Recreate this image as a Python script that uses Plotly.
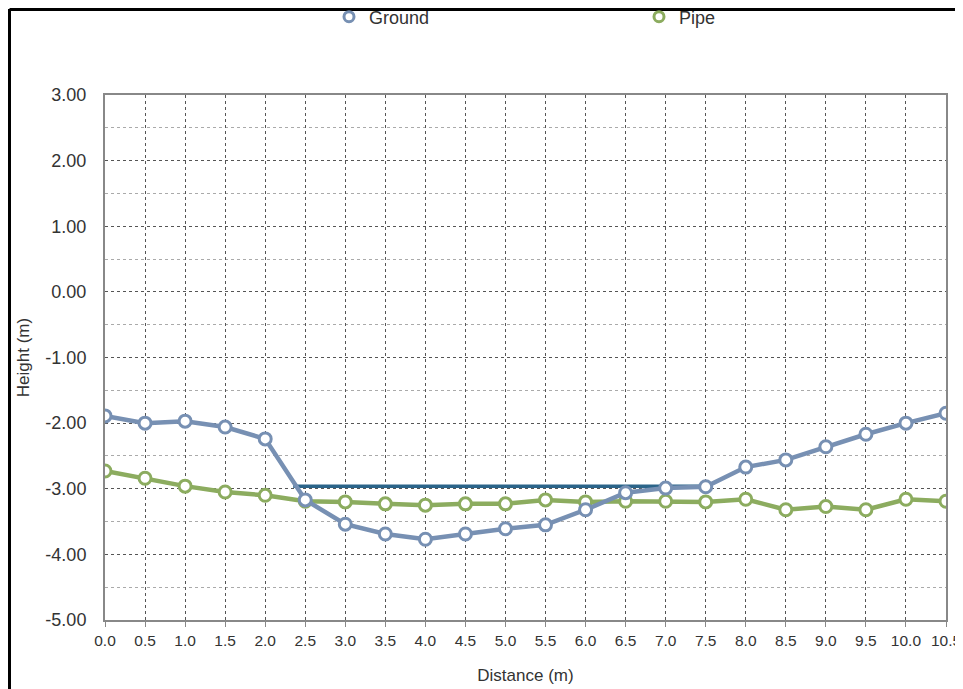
import plotly.graph_objects as go

distance = [0.0, 0.5, 1.0, 1.5, 2.0, 2.5, 3.0, 3.5, 4.0, 4.5, 5.0, 5.5, 6.0, 6.5, 7.0, 7.5, 8.0, 8.5, 9.0, 9.5, 10.0, 10.5]
ground = [-1.89, -2.00, -1.97, -2.06, -2.24, -3.17, -3.54, -3.69, -3.77, -3.69, -3.61, -3.55, -3.32, -3.06, -2.99, -2.97, -2.67, -2.56, -2.36, -2.17, -2.00, -1.85]
pipe = [-2.73, -2.84, -2.96, -3.05, -3.10, -3.19, -3.20, -3.23, -3.25, -3.23, -3.23, -3.17, -3.20, -3.19, -3.19, -3.20, -3.16, -3.32, -3.27, -3.32, -3.16, -3.19]
level_x = [2.35, 7.5]
level_y = [-2.96, -2.96]
x_ticks = [0.0, 0.5, 1.0, 1.5, 2.0, 2.5, 3.0, 3.5, 4.0, 4.5, 5.0, 5.5, 6.0, 6.5, 7.0, 7.5, 8.0, 8.5, 9.0, 9.5, 10.0, 10.5]
x_tick_labels = ["0.0", "0.5", "1.0", "1.5", "2.0", "2.5", "3.0", "3.5", "4.0", "4.5", "5.0", "5.5", "6.0", "6.5", "7.0", "7.5", "8.0", "8.5", "9.0", "9.5", "10.0", "10.5"]
y_ticks = [3, 2, 1, 0, -1, -2, -3, -4, -5]
y_tick_labels = ["3.00", "2.00", "1.00", "0.00", "-1.00", "-2.00", "-3.00", "-4.00", "-5.00"]

ground_color = "#7790b3"
pipe_color = "#8cac5f"

fig = go.Figure()
fig.add_trace(go.Scatter(
    x=distance, y=pipe, name="Pipe", mode="lines+markers", showlegend=False,
    line=dict(color=pipe_color, width=4.5),
    marker=dict(symbol="circle", size=12, color="white", line=dict(color=pipe_color, width=3))))
fig.add_trace(go.Scatter(
    x=level_x, y=level_y, mode="lines", showlegend=False,
    line=dict(color="#2b6489", width=3.5), hoverinfo="skip"))
fig.add_trace(go.Scatter(
    x=distance, y=ground, name="Ground", mode="lines+markers", showlegend=False,
    line=dict(color=ground_color, width=4.5),
    marker=dict(symbol="circle", size=12, color="white", line=dict(color=ground_color, width=3))))
# legend entries (markers only, as in the reference legend)
fig.add_trace(go.Scatter(
    x=[None], y=[None], name="Ground", mode="markers",
    marker=dict(symbol="circle", size=10, color="white", line=dict(color=ground_color, width=3))))
fig.add_trace(go.Scatter(
    x=[None], y=[None], name="Pipe", mode="markers",
    marker=dict(symbol="circle", size=10, color="white", line=dict(color=pipe_color, width=3))))

fig.update_layout(
    width=955, height=681,
    margin=dict(l=97, r=17, t=87, b=69, autoexpand=False),
    paper_bgcolor="white", plot_bgcolor="white",
    font=dict(family="Liberation Sans, Arial, sans-serif", size=16, color="#333333"),
    legend=dict(orientation="h", x=(321 - 97) / 841, xanchor="left",
                y=1 + 78 / 525, yanchor="middle", yref="paper",
                entrywidth=265, entrywidthmode="pixels", bgcolor="rgba(0,0,0,0)",
                font=dict(size=18, color="#333333"), itemwidth=30),
    showlegend=True,
)
fig.update_xaxes(
    range=[0, 10.5], tickvals=x_ticks, ticktext=x_tick_labels,
    showgrid=True, gridcolor="#555555", griddash="dot", gridwidth=1,
    showline=True, linecolor="#888888", linewidth=2, mirror=True,
    ticks="outside", ticklen=5, tickcolor="#888888",
    title=dict(text="Distance (m)", font=dict(size=17), standoff=22),
    zeroline=False, tickfont=dict(size=15.5))
fig.update_yaxes(
    range=[-5, 3], tickvals=y_ticks, ticktext=y_tick_labels,
    showgrid=True, gridcolor="#555555", griddash="dot", gridwidth=1,
    minor=dict(dtick=0.5, showgrid=True, gridcolor="#aaaaaa", griddash="dot", gridwidth=1),
    showline=True, linecolor="#888888", linewidth=2, mirror=True,
    ticks="", ticklen=0, ticklabelstandoff=13,
    title=dict(text="Height (m)", font=dict(size=17), standoff=11),
    zeroline=False, tickfont=dict(size=18))

# page frame
fig.add_shape(type="line", xref="paper", yref="paper",
              x0=(1.5 - 97) / 841, x1=(1.5 - 97) / 841, y0=1 + 86 / 525, y1=-69 / 525,
              line=dict(color="black", width=3))
fig.add_shape(type="line", xref="paper", yref="paper",
              x0=(1.5 - 97) / 841, x1=1 + 17 / 841, y0=1 + 85.5 / 525, y1=1 + 85.5 / 525,
              line=dict(color="black", width=3))

fig.write_html("out.html")
